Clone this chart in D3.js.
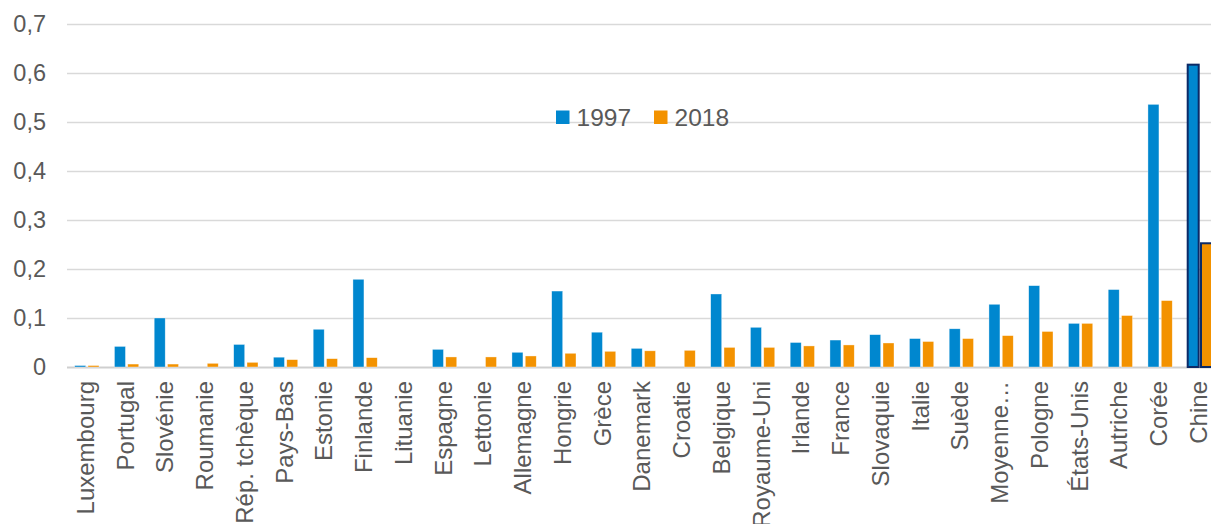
<!DOCTYPE html>
<html lang="fr">
<head>
<meta charset="utf-8">
<script src="https://cdn.jsdelivr.net/npm/d3@7"></script>
<style>
  html, body { margin: 0; padding: 0; background: #fff; overflow: hidden; }
  svg { display: block; font-family: "Liberation Sans", Arial, sans-serif; }
</style>
</head>
<body>
<svg id="chart" width="1211" height="524"></svg>
<script>
// Pays, du plus faible au plus élevé (valeur 2018)
const categories = [
  "Luxembourg", "Portugal", "Slovénie", "Roumanie", "Rép. tchèque", "Pays-Bas",
  "Estonie", "Finlande", "Lituanie", "Espagne", "Lettonie", "Allemagne",
  "Hongrie", "Grèce", "Danemark", "Croatie", "Belgique", "Royaume-Uni",
  "Irlande", "France", "Slovaquie", "Italie", "Suède", "Moyenne…",
  "Pologne", "États-Unis", "Autriche", "Corée", "Chine"
];

const values1997 = [
  0.003, 0.042, 0.100, 0.000, 0.046, 0.020,
  0.077, 0.179, 0.000, 0.036, 0.000, 0.030,
  0.155, 0.071, 0.038, 0.000, 0.149, 0.081,
  0.050, 0.055, 0.066, 0.058, 0.078, 0.128,
  0.166, 0.089, 0.158, 0.536, 0.617
];

const values2018 = [
  0.003, 0.006, 0.006, 0.0075, 0.0095, 0.015,
  0.017, 0.019, 0.000, 0.0205, 0.0205, 0.0225,
  0.028, 0.032, 0.033, 0.034, 0.040, 0.040,
  0.043, 0.045, 0.049, 0.052, 0.058, 0.064,
  0.0725, 0.089, 0.105, 0.1355, 0.2525
];

const seriesNames = ["1997", "2018"];
const yTicks = [0, 0.1, 0.2, 0.3, 0.4, 0.5, 0.6, 0.7];
const highlighted = ["Chine"];

const colors = { "1997": "#0087CF", "2018": "#F39200" };
const textColor = "#595959";

const svg = d3.select("#chart");
const plotLeft = 67, step = 39.75;
const plotRight = plotLeft + step * categories.length;
const y0 = 367, yTop = 24;

const x = d3.scaleBand().domain(categories).range([plotLeft, plotRight]).padding(0);
const xs = d3.scaleBand().domain(seriesNames).range([7.7, 32]).paddingInner(0.173).paddingOuter(0);
const y = d3.scaleLinear().domain([0, 0.7]).range([y0, yTop]);

// Horizontal gridlines
svg.append("g")
  .selectAll("line")
  .data(yTicks)
  .join("line")
  .attr("x1", plotLeft).attr("x2", 1211)
  .attr("y1", d => Math.round(y(d)) + 0.5).attr("y2", d => Math.round(y(d)) + 0.5)
  .attr("stroke", d => d === 0 ? "#cfcfcf" : "#d9d9d9")
  .attr("stroke-width", d => d === 0 ? 2 : 1.4);

// Y axis labels
const fmt = d => d === 0 ? "0" : d3.format(".1f")(d).replace(".", ",");
svg.append("g")
  .selectAll("text")
  .data(yTicks)
  .join("text")
  .attr("x", 46).attr("y", d => y(d))
  .attr("dy", "0.35em")
  .attr("text-anchor", "end")
  .attr("font-size", 23.5)
  .attr("fill", textColor)
  .text(fmt);

// Bars
const rows = categories.map((c, i) => ({ c, v: { "1997": values1997[i], "2018": values2018[i] } }));
const groups = svg.append("g")
  .selectAll("g")
  .data(rows)
  .join("g")
  .attr("transform", d => `translate(${x(d.c)},0)`);

groups.selectAll("rect")
  .data(d => seriesNames.map(s => ({ s, v: d.v[s], hl: highlighted.includes(d.c) })))
  .join("rect")
  .attr("x", d => xs(d.s))
  .attr("width", xs.bandwidth())
  .attr("y", d => y(d.v))
  .attr("height", d => y0 - y(d.v))
  .attr("fill", d => colors[d.s])
  .attr("stroke", d => d.hl ? "#0c2a66" : "#ffffff")
  .attr("stroke-width", d => d.hl ? 2 : 0.6)
  .attr("stroke-opacity", d => d.hl ? 1 : 0.6);

// Category labels, vertical
svg.append("g")
  .selectAll("text")
  .data(categories)
  .join("text")
  .attr("transform", d => `translate(${x(d) + x.bandwidth() / 2 - 1},381) rotate(-90)`)
  .attr("dy", "0.33em")
  .attr("text-anchor", "end")
  .attr("font-size", 24)
  .attr("fill", textColor)
  .text(d => d);

// Legend
const legend = svg.append("g");
const legendX = [556, 654];
seriesNames.forEach((s, i) => {
  legend.append("rect")
    .attr("x", legendX[i]).attr("y", 110.5)
    .attr("width", 13.5).attr("height", 13.5)
    .attr("fill", colors[s]);
  legend.append("text")
    .attr("x", legendX[i] + 20.5).attr("y", 117.5)
    .attr("dy", "0.35em")
    .attr("font-size", 24.5)
    .attr("fill", textColor)
    .text(s);
});
</script>
</body>
</html>
